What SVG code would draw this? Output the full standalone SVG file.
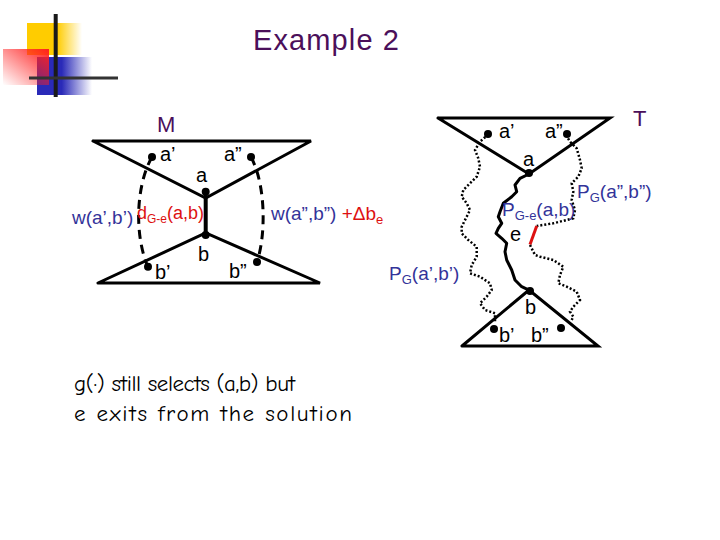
<svg xmlns="http://www.w3.org/2000/svg" width="720" height="540" viewBox="0 0 720 540">
<defs>
<linearGradient id="gy" x1="0" y1="0" x2="1" y2="0"><stop offset="0" stop-color="#ffcc00"/><stop offset="0.55" stop-color="#ffcc00"/><stop offset="1" stop-color="#ffcc00" stop-opacity="0"/></linearGradient>
<linearGradient id="gr" x1="1" y1="0" x2="0" y2="1"><stop offset="0" stop-color="#ff2020"/><stop offset="1" stop-color="#ff2020" stop-opacity="0"/></linearGradient>
<linearGradient id="gb" x1="0" y1="0" x2="1" y2="0"><stop offset="0" stop-color="#2a2ab8"/><stop offset="0.45" stop-color="#2a2ab8"/><stop offset="1" stop-color="#2a2ab8" stop-opacity="0"/></linearGradient>
<style>
.ln{stroke:#000;stroke-width:3;fill:none;stroke-linecap:round}
.dash{stroke:#000;stroke-width:3;fill:none;stroke-dasharray:9,6}
.dot{stroke:#000;stroke-width:2.5;fill:none;stroke-dasharray:2,2}
.wig{stroke:#000;stroke-width:3;fill:none;stroke-linejoin:round}
.nd{fill:#000}
.t{font-family:"Liberation Sans",Arial,sans-serif;font-size:20px;fill:#000}
.b{font-family:"Liberation Sans",Arial,sans-serif;font-size:19px;fill:#333399}
.r{font-family:"Liberation Sans",Arial,sans-serif;font-size:18px;fill:#dd1111}
.p{font-family:"Liberation Sans",Arial,sans-serif;fill:#4b0f5a}
.c{font-family:"Comic Neue","Liberation Sans",sans-serif;font-size:23px;fill:#000}
</style>
</defs>
<g id="logo">
<rect x="27" y="23" width="55" height="32" fill="url(#gy)"/>
<rect x="37" y="57" width="55" height="38" fill="url(#gb)"/>
<rect x="3" y="49" width="46" height="36" fill="url(#gr)"/>
<line x1="55.7" y1="14" x2="55.7" y2="97" stroke="#1a1a1a" stroke-width="4"/>
<line x1="29" y1="78" x2="118" y2="78" stroke="#333" stroke-width="3"/>
</g>
<text id="title" class="p" x="326" y="50" font-size="29" text-anchor="middle" textLength="146">Example 2</text>

<g id="connectors">
<path class="dash" d="M152,157 C136,185 134,235 148,267"/>
<path class="dash" d="M251,157 C266,185 266,235 257,262"/>
<polyline class="dot" points="488.3,134.3 480,141.7 475,150 478.3,158.3 480,166.7 476.7,176.7 470,183.3 463.3,190 461.7,196.7 466.7,203.3 470,210 466.7,216.7 461.7,226.7 461.7,233.3 468.3,240 476.7,246.7 476.7,256.7 471.7,265 470,273.3 480,276.7 490,283.3 491.7,290 486.7,296.7 480,303.3 485,310 495,313.3 495,323.3"/>
<polyline class="wig" points="529,174 520,178.3 515,185 516.7,191.7 511.7,196.7 503.3,203.3 500,211.7 498.3,216.7 501.7,223.3 498.3,228.3 496,233.3 501.7,238.3 506.7,243.3 505,251.7 506.7,260 511.7,270 515,280 521.7,286.7 530,290.7"/>
<polyline class="dot" points="566,135 570,141.7 576.7,148.3 580,160 581.7,168.3 578.3,176.7 571.7,183.3 573.3,191.7 571.7,200 575,210 573.3,218.3 553.3,223.3 536.7,226"/>
<line x1="536.7" y1="226" x2="530" y2="244.5" stroke="#dd1111" stroke-width="3"/>
<polyline class="dot" points="530,245 535,255 540,256.7 553.3,260 563.3,266.7 560,275 558.3,283.3 566.7,286.7 576.7,291.7 580,300 573.3,306.7 570,311.7 573.3,316.7 571.7,320"/>
</g>

<g id="M">
<text class="p" x="157" y="132" font-size="22">M</text>
<polyline class="ln" points="93,141 311,141 205.7,198 93,141"/>
<line x1="205.7" y1="191" x2="205.7" y2="235" stroke="#000" stroke-width="4"/>
<polyline class="ln" points="98,283 205.7,233 320,283 98,283"/>
</g>
<g id="M-a1"><circle class="nd" cx="152" cy="157" r="4"/><text class="t" x="160" y="161">a’</text></g>
<g id="M-a2"><circle class="nd" cx="251" cy="157" r="4"/><text class="t" x="224" y="161">a”</text></g>
<g id="M-a"><circle class="nd" cx="205.7" cy="191.7" r="4"/><text class="t" x="196" y="182">a</text></g>
<g id="M-b"><circle class="nd" cx="205.7" cy="235" r="4"/><text class="t" x="198" y="261">b</text></g>
<g id="M-b1"><circle class="nd" cx="148" cy="266.7" r="4"/><text class="t" x="155" y="279">b’</text></g>
<g id="M-b2"><circle class="nd" cx="257" cy="262" r="4"/><text class="t" x="229" y="278">b”</text></g>
<text class="b" x="72" y="224">w(a’,b’)</text>
<text class="r" x="137" y="219">d<tspan font-size="12" dy="4">G-e</tspan><tspan dy="-4">(a,b)</tspan></text>
<text class="b" x="271" y="220">w(a”,b”) <tspan fill="#dd1111">+Δb<tspan font-size="13" dy="4">e</tspan></tspan></text>

<g id="T">
<text class="p" x="633" y="126" font-size="22">T</text>
<polyline class="ln" points="438,118 610,118 529,174 438,118"/>
<polyline class="ln" points="462,346 529,290 598,346 462,346"/>
</g>
<g id="T-a1"><circle class="nd" cx="488" cy="134" r="4"/><text class="t" x="499" y="138">a’</text></g>
<g id="T-a2"><circle class="nd" cx="567" cy="134" r="4"/><text class="t" x="545" y="138">a”</text></g>
<g id="T-a"><circle class="nd" cx="529" cy="173" r="4"/><text class="t" x="523" y="166">a</text></g>
<g id="T-b"><circle class="nd" cx="530" cy="291" r="4"/><text class="t" x="525" y="314">b</text></g>
<g id="T-b1"><circle class="nd" cx="494" cy="329" r="4"/><text class="t" x="499" y="342">b’</text></g>
<g id="T-b2"><circle class="nd" cx="561" cy="328" r="4"/><text class="t" x="531" y="342">b”</text></g>
<text class="t" x="510" y="241">e</text>
<text class="b" x="502" y="216">P<tspan font-size="13" dy="4">G-e</tspan><tspan dy="-4">(a,b)</tspan></text>
<text class="b" x="577" y="198">P<tspan font-size="13" dy="4">G</tspan><tspan dy="-4">(a”,b”)</tspan></text>
<text class="b" x="389" y="280">P<tspan font-size="13" dy="4">G</tspan><tspan dy="-4">(a’,b’)</tspan></text>

<text class="c" x="74" y="391" textLength="221">g(·) still selects (a,b) but</text>
<text class="c" x="74" y="421" textLength="278">e exits from the solution</text>
</svg>
